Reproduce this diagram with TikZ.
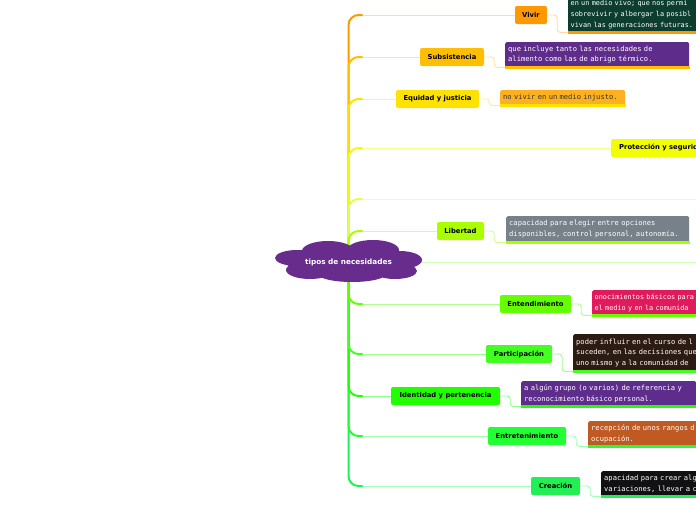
\documentclass[tikz,border=0pt]{standalone}
\usepackage{fontspec}
\setmainfont{DejaVu Sans}
\newfontfamily\monof{DejaVu Sans Mono}
\usetikzlibrary{calc}
\pgfdeclarelayer{bg}
\pgfsetlayers{bg,main}
\definecolor{vivC}{HTML}{FF9900}\definecolor{vivP}{HTML}{FFD9A8}
\definecolor{subC}{HTML}{FFBF00}\definecolor{subP}{HTML}{FFE4A0}
\definecolor{equC}{HTML}{FFE200}\definecolor{equP}{HTML}{FFF08A}
\definecolor{proC}{HTML}{F2FF00}\definecolor{proP}{HTML}{F8FF90}
\definecolor{nulC}{HTML}{E4FF50}\definecolor{nulP}{HTML}{EEFFB0}
\definecolor{libC}{HTML}{AAFF00}\definecolor{libP}{HTML}{D0FF90}
\definecolor{midP}{HTML}{CCFFB0}
\definecolor{entC}{HTML}{66FF00}\definecolor{entP}{HTML}{B0FF90}
\definecolor{parC}{HTML}{44FF22}\definecolor{parP}{HTML}{A0FF90}
\definecolor{ideC}{HTML}{22FF00}\definecolor{ideP}{HTML}{90FF90}
\definecolor{etrC}{HTML}{22FF33}\definecolor{etrP}{HTML}{A0FFB0}
\definecolor{creC}{HTML}{22EE55}\definecolor{creP}{HTML}{A0FFB8}
\definecolor{cloudC}{HTML}{672C8C}
\definecolor{tbGreen}{HTML}{0D3D2F}
\definecolor{tbPurple}{HTML}{5E2D8C}
\definecolor{tbOrange}{HTML}{FFB020}
\definecolor{tbGray}{HTML}{76818A}
\definecolor{tbCrimson}{HTML}{E01A5C}
\definecolor{tbBrown}{HTML}{2C1B11}
\definecolor{tbRust}{HTML}{BE5A22}
\definecolor{tbBlack}{HTML}{111111}
\newcommand\mmbranch[3]{%
  \draw[br, draw=#3] ($(cloud.center |- #1)+(12,0)$) -- (#1);
  \draw[trunk, draw=#2] (cloud.center) |- ($(cloud.center |- #1)+(14,0)$);}
\newcommand\mmlink[4]{%
  \draw[br, draw=#3, rounded corners=3pt] (#1.east) -- ++(10,0) |- (#2.south west);
  \draw[ul, draw=#4] ([xshift=-0.5pt]#2.south west) -- ([xshift=1pt]#2.south east);}
\begin{document}
\begin{tikzpicture}[x=1pt,y=-1pt,
  lab/.style={rounded corners=2pt, minimum height=18pt, inner sep=0pt,
    font=\fontsize{6.8}{8}\selectfont\bfseries, text=black},
  tb/.style={rounded corners=1.5pt, anchor=north west, inner xsep=3pt, inner ysep=0pt,
    align=left, font=\monof\fontsize{7.1}{10.6}\selectfont, text=white},
  tbs/.style={tb, inner xsep=2.5pt, font=\monof\fontsize{6.85}{10.6}\selectfont},
  br/.style={line width=0.9pt, rounded corners=10pt},
  trunk/.style={line width=2pt, rounded corners=10pt},
  ul/.style={line width=2.6pt}]
\useasboundingbox (0,0) rectangle (696,520);
% central cloud (drawn shape) and its label
\fill[cloudC]
  (348,262) ellipse [x radius=62pt, y radius=15pt]
  (328,251) ellipse [x radius=26pt, y radius=10pt]
  (373,250) ellipse [x radius=26pt, y radius=10pt]
  (297,258) ellipse [x radius=22pt, y radius=8pt]
  (310,270) ellipse [x radius=24pt, y radius=9pt]
  (352,274) ellipse [x radius=34pt, y radius=8pt]
  (395,271) ellipse [x radius=22pt, y radius=8pt]
  (400,260) ellipse [x radius=22pt, y radius=9pt];
\node[text=white, font=\fontsize{7.3}{8}\selectfont\bfseries, inner sep=0pt] (cloud) at (348.5,262) {tipos de necesidades};
% main labels
\node[lab, fill=vivC, minimum width=32pt] (viv) at (531,15) {Vivir};
\node[lab, fill=subC, minimum width=64pt] (sub) at (452,57) {Subsistencia};
\node[lab, fill=equC, minimum width=83pt] (equ) at (437.5,99) {Equidad y justicia};
\node[lab, fill=proC, anchor=west, inner xsep=8pt] (pro) at (611,148) {Protección y seguridad};
\coordinate (e199) at (700,199);
\node[lab, fill=libC, minimum width=47pt] (lib) at (460.5,231) {Libertad};
\coordinate (e262) at (700,262);
\node[lab, fill=entC, minimum width=71pt] (ent) at (535.5,304) {Entendimiento};
\node[lab, fill=parC, minimum width=66pt] (par) at (519,354) {Participación};
\node[lab, fill=ideC, minimum width=109pt] (ide) at (445.5,396) {Identidad y pertenencia};
\node[lab, fill=etrC, minimum width=78pt] (etr) at (527,436) {Entretenimiento};
\node[lab, fill=creC, minimum width=49pt] (cre) at (555.5,486) {Creación};
% text boxes
\node[tbs, fill=tbGreen, minimum width=140pt, minimum height=35pt, text width=135pt] (vivt) at (568,-3)
  {en un medio vivo; que nos permi\\sobrevivir y albergar la posibl\\vivan las generaciones futuras.};
\node[tb, fill=tbPurple, minimum width=184pt, minimum height=25pt, text width=178pt] (subt) at (505,42)
  {que incluye tanto las necesidades de\\alimento como las de abrigo térmico.};
\node[tb, fill=tbOrange, text=black!80, minimum width=125pt, minimum height=15pt, text width=119pt] (equt) at (500,90)
  {no vivir en un medio injusto.};
\node[tb, fill=tbGray, minimum width=183pt, minimum height=26pt, text width=177pt] (libt) at (506,216)
  {capacidad para elegir entre opciones\\disponibles, control personal, autonomía.};
\node[tbs, fill=tbCrimson, minimum width=110pt, minimum height=25pt, text width=105pt] (entt) at (592,290)
  {onocimientos básicos para\\el medio y en la comunida};
\node[tb, fill=tbBrown, minimum width=130pt, minimum height=37pt, text width=124pt] (part) at (573,334)
  {poder influir en el curso de l\\suceden, en las decisiones que\\uno mismo y a la comunidad de};
\node[tb, fill=tbPurple, minimum width=175pt, minimum height=25pt, text width=169pt] (idet) at (521,381)
  {a algún grupo (o varios) de referencia y\\reconocimiento básico personal.};
\node[tb, fill=tbRust, minimum width=115pt, minimum height=25pt, text width=109pt] (etrt) at (588,421)
  {recepción de unos rangos d\\ocupación.};
\node[tb, fill=tbBlack, minimum width=100pt, minimum height=25pt, text width=94pt] (cret) at (601,471)
  {apacidad para crear alg\\variaciones, llevar a c};
\begin{pgfonlayer}{bg}
  \draw[line width=0.9pt, draw=midP] (cloud.center) -- (e262);
  \mmbranch{viv}{vivC}{vivP}
  \mmbranch{sub}{subC}{subP}
  \mmbranch{equ}{equC}{equP}
  \mmbranch{pro}{proC}{proP}
  \mmbranch{e199}{nulC}{nulP}
  \mmbranch{lib}{libC}{libP}
  \mmbranch{cre}{creC}{creP}
  \mmbranch{etr}{etrC}{etrP}
  \mmbranch{ide}{ideC}{ideP}
  \mmbranch{par}{parC}{parP}
  \mmbranch{ent}{entC}{entP}
\end{pgfonlayer}
\mmlink{viv}{vivt}{vivP}{vivC}
\mmlink{sub}{subt}{subP}{subC}
\mmlink{equ}{equt}{equP}{equC}
\mmlink{lib}{libt}{libP}{libC}
\mmlink{ent}{entt}{entP}{entC}
\mmlink{par}{part}{parP}{parC}
\mmlink{ide}{idet}{ideP}{ideC}
\mmlink{etr}{etrt}{etrP}{etrC}
\mmlink{cre}{cret}{creP}{creC}
\end{tikzpicture}
\end{document}
